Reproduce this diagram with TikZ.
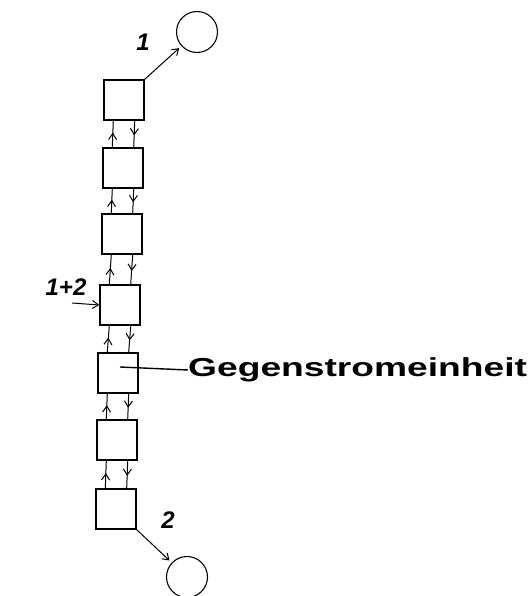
\documentclass[tikz,border=0pt]{standalone}
\usepackage{fontspec}
\setmainfont{Liberation Sans}
\usetikzlibrary{calc,arrows.meta}
\begin{document}
\begin{tikzpicture}[x=1pt,y=-1pt,
  unit/.style={draw,line width=1.4pt,minimum width=40pt,minimum height=40pt,inner sep=0pt},
  tank/.style={draw,line width=1.1pt,circle,minimum size=41pt,inner sep=0pt},
  flow/.style={line width=1pt},
  tip/.style={-{Straight Barb[length=6pt,width=8pt]}},
  lbl/.style={font=\fontsize{24}{24}\selectfont\bfseries\itshape}]
\useasboundingbox (0,0) rectangle (531,596);
% column of counter-current units
\node[unit] (b1) at (124,100) {};
\node[unit] (b2) at (123,168) {};
\node[unit] (b3) at (122,234) {};
\node[unit] (b4) at (120,305) {};
\node[unit] (b5) at (118,373) {};
\node[unit] (b6) at (117,440) {};
\node[unit] (b7) at (116,509) {};
% product vessels
\node[tank] (t1) at (197,32) {};
\node[tank] (t2) at (187,577) {};
% paired streams between neighbouring units: up on the left, down on the right
\foreach \u/\l in {b1/b2,b2/b3,b3/b4,b4/b5,b5/b6,b6/b7}{
  \coordinate (up0) at ($(\l.north west)+(10,0)$);
  \coordinate (up1) at ($(\u.south west)+(10,0)$);
  \coordinate (dn0) at ($(\u.south east)+(-10,0)$);
  \coordinate (dn1) at ($(\l.north east)+(-10,0)$);
  \draw[flow,tip] (up0) -- ($(up0)!0.55!(up1)$);
  \draw[flow] ($(up0)!0.5!(up1)$) -- (up1);
  \draw[flow,tip] (dn0) -- ($(dn0)!0.55!(dn1)$);
  \draw[flow] ($(dn0)!0.5!(dn1)$) -- (dn1);
}
% outlets
\draw[flow,tip,shorten >=3pt] (b1.north east) -- (t1);
\draw[flow,tip,shorten >=3pt] (b7.south east) -- (t2);
\node[lbl] (n1) at (143,42) {1};
\node[lbl] (n2) at (168,520) {2};
% feed
\coordinate (feed) at (72,303);
\draw[flow,tip] (feed) -- (b4.west);
\node[lbl] (n12) at (66,287) {1+2};
% label of one unit
\coordinate (lead) at (120,367);
\node[anchor=west,inner sep=0pt] (gs) at (188,370)
  {\scalebox{1.43}[1]{\fontsize{26}{26}\selectfont\bfseries Gegenstromeinheit}};
\draw[line width=1.4pt] (lead) -- (gs.west);
\end{tikzpicture}
\end{document}
